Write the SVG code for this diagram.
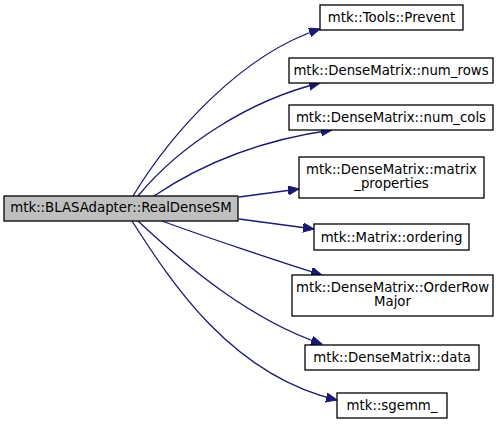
<svg xmlns="http://www.w3.org/2000/svg" width="501" height="424" viewBox="0 0 501 424">
<style>
.box{fill:#ffffff;stroke:#000000;stroke-width:1.3}
.main{fill:#bfbfbf;stroke:#000000;stroke-width:1.3}
.lbl{font-family:"DejaVu Sans",sans-serif;font-size:13.3px;fill:#000000;text-anchor:middle}
.edge{fill:none;stroke:#191970;stroke-width:1.3}
</style>
<defs>
<marker id="ah" markerUnits="userSpaceOnUse" markerWidth="12" markerHeight="10" refX="11" refY="4.5" orient="auto">
<path d="M0,0 L11,4.5 L0,9 z" fill="#191970" stroke="#191970"/>
</marker>
</defs>
<rect width="501" height="424" fill="#ffffff"/>
<g id="connectors">
<path class="edge" marker-end="url(#ah)" d="M133,196 C170,135 240,55 320,29"/>
<path class="edge" marker-end="url(#ah)" d="M138,196 C180,145 250,100 320,83"/>
<path class="edge" marker-end="url(#ah)" d="M154,196 C200,165 260,140 332,130"/>
<path class="edge" marker-end="url(#ah)" d="M239,197 L299,189"/>
<path class="edge" marker-end="url(#ah)" d="M239,219 L314,229"/>
<path class="edge" marker-end="url(#ah)" d="M162,221 C200,235 280,262 322,275"/>
<path class="edge" marker-end="url(#ah)" d="M138,221 C185,265 250,320 322,344"/>
<path class="edge" marker-end="url(#ah)" d="M132,221 C170,280 230,375 337,400"/>
</g>
<g id="node_main">
<rect class="main" x="4" y="196" width="234" height="25"/>
<text class="lbl" x="121" y="212">mtk::BLASAdapter::RealDenseSM</text>
</g>
<g id="node_prevent">
<rect class="box" x="320" y="5" width="143" height="25"/>
<text class="lbl" x="391.5" y="22">mtk::Tools::Prevent</text>
</g>
<g id="node_num_rows">
<rect class="box" x="289" y="58" width="204" height="25"/>
<text class="lbl" x="391" y="75">mtk::DenseMatrix::num_rows</text>
</g>
<g id="node_num_cols">
<rect class="box" x="289" y="105" width="204" height="25"/>
<text class="lbl" x="391" y="122">mtk::DenseMatrix::num_cols</text>
</g>
<g id="node_matrix_properties">
<rect class="box" x="299" y="157" width="185" height="41"/>
<text class="lbl" x="391.5" y="174">mtk::DenseMatrix::matrix</text>
<text class="lbl" x="391.5" y="188">_properties</text>
</g>
<g id="node_ordering">
<rect class="box" x="314" y="224" width="155" height="26"/>
<text class="lbl" x="391.5" y="242">mtk::Matrix::ordering</text>
</g>
<g id="node_order_row_major">
<rect class="box" x="292" y="275" width="201" height="41"/>
<text class="lbl" x="392.5" y="292">mtk::DenseMatrix::OrderRow</text>
<text class="lbl" x="392.5" y="306">Major</text>
</g>
<g id="node_data">
<rect class="box" x="305" y="345" width="174" height="25"/>
<text class="lbl" x="392" y="362">mtk::DenseMatrix::data</text>
</g>
<g id="node_sgemm">
<rect class="box" x="337" y="393" width="110" height="25"/>
<text class="lbl" x="392" y="410">mtk::sgemm_</text>
</g>
</svg>
